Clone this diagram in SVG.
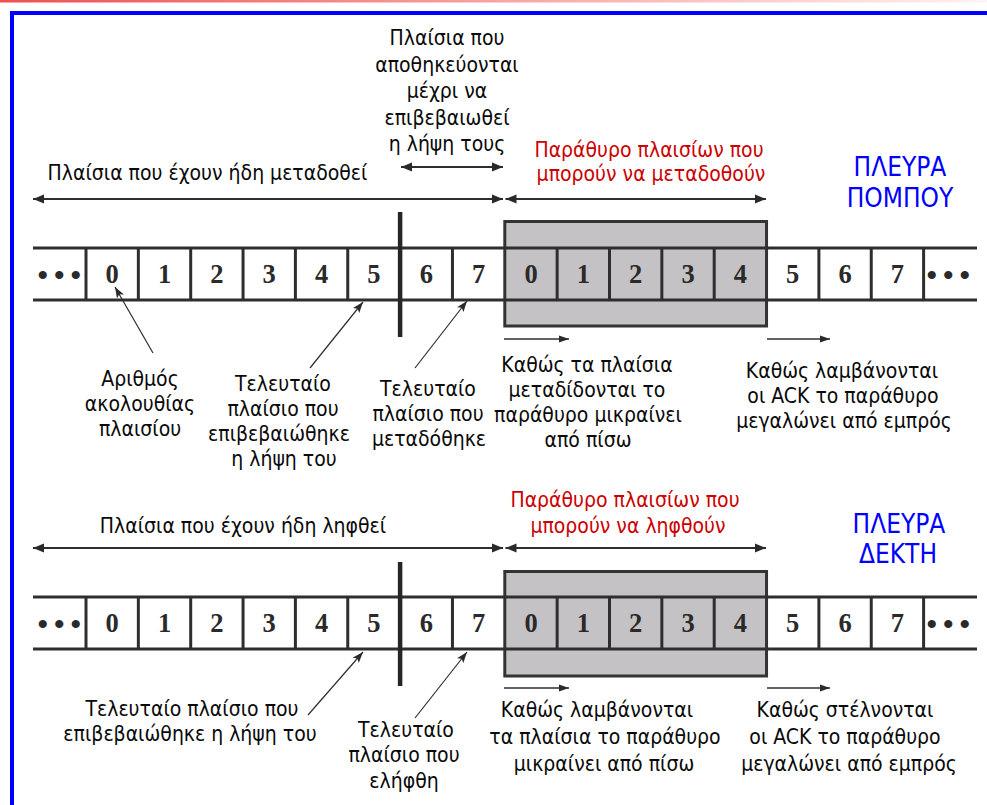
<svg xmlns="http://www.w3.org/2000/svg" width="987" height="805" viewBox="0 0 987 805">
<defs>
<linearGradient id="topbar" x1="0" y1="0" x2="1" y2="0">
<stop offset="0" stop-color="#ee5050"/>
<stop offset="0.5" stop-color="#f7a3a3"/>
<stop offset="1" stop-color="#fff2f2"/>
</linearGradient>
<marker id="ah" markerUnits="userSpaceOnUse" markerWidth="12" markerHeight="10" refX="11" refY="5" orient="auto-start-reverse" viewBox="0 0 12 10">
<path d="M0,0.5 L11,5 L0,9.5 z" fill="#2a2a2a"/>
</marker>
<marker id="ahs" markerUnits="userSpaceOnUse" markerWidth="11" markerHeight="8" refX="10" refY="4" orient="auto" viewBox="0 0 11 8">
<path d="M0,0.5 L10,4 L0,7.5 z" fill="#2a2a2a"/>
</marker>
<marker id="ahp" markerUnits="userSpaceOnUse" markerWidth="12" markerHeight="9" refX="11" refY="4.5" orient="auto" viewBox="0 0 12 9">
<path d="M0,0.5 L11,4.5 L0,8.5 L2.5,4.5 z" fill="#2a2a2a"/>
</marker>
</defs>
<style>
.lbl{font-family:"DejaVu Sans Condensed","DejaVu Sans",sans-serif;font-stretch:condensed;font-size:21px;fill:#0a0a0a;text-anchor:middle}
.red{fill:#cc0000}
.side{fill:#0000ff;font-size:26px}
.num{font-family:"Liberation Serif","DejaVu Serif",serif;font-weight:700;font-size:26.5px;fill:#2a2a2a;text-anchor:middle}
.dots{font-family:"Liberation Serif","DejaVu Serif",serif;font-weight:700;font-size:30px;fill:#2a2a2a;letter-spacing:6px}
.hl{stroke:#2e2e2e;stroke-width:3;fill:none}
.dv{stroke:#2e2e2e;stroke-width:3}
.bar{stroke:#262626;stroke-width:4.5}
.win{fill:#c4c2c5;stroke:#333;stroke-width:3}
.arr{stroke:#2e2e2e;stroke-width:2;fill:none}
.sarr{stroke:#2e2e2e;stroke-width:1.6;fill:none}
.ptr{stroke:#2e2e2e;stroke-width:1.2;fill:none}
</style>
<rect x="0" y="0" width="987" height="2.5" fill="url(#topbar)"/>
<rect x="12" y="13" width="1000" height="900" fill="none" stroke="#0000ff" stroke-width="4"/>

<!-- Transmitter side row -->
<g id="tx-row">
<rect class="win" x="504.8" y="221.5" width="261.75" height="104.5"/>
<line class="hl" x1="33" y1="248" x2="977" y2="248"/>
<line class="hl" x1="33" y1="300" x2="977" y2="300"/>
<g id="tx-dividers">
<line class="dv" x1="86" y1="248" x2="86" y2="300"/>
<line class="dv" x1="138.35" y1="248" x2="138.35" y2="300"/>
<line class="dv" x1="190.7" y1="248" x2="190.7" y2="300"/>
<line class="dv" x1="243.05" y1="248" x2="243.05" y2="300"/>
<line class="dv" x1="295.4" y1="248" x2="295.4" y2="300"/>
<line class="dv" x1="347.75" y1="248" x2="347.75" y2="300"/>
<line class="dv" x1="452.45" y1="248" x2="452.45" y2="300"/>
<line class="dv" x1="557.15" y1="248" x2="557.15" y2="300"/>
<line class="dv" x1="609.5" y1="248" x2="609.5" y2="300"/>
<line class="dv" x1="661.85" y1="248" x2="661.85" y2="300"/>
<line class="dv" x1="714.2" y1="248" x2="714.2" y2="300"/>
<line class="dv" x1="818.9" y1="248" x2="818.9" y2="300"/>
<line class="dv" x1="871.25" y1="248" x2="871.25" y2="300"/>
<line class="dv" x1="923.6" y1="248" x2="923.6" y2="300"/>
</g>
<line class="bar" x1="400.1" y1="212" x2="400.1" y2="337"/>
<g id="tx-cell-dots-l"><text class="dots" x="37.5" y="285">•••</text></g>
<g id="tx-cell-0"><text class="num" x="112.2" y="282.5">0</text></g>
<g id="tx-cell-1"><text class="num" x="164.5" y="282.5">1</text></g>
<g id="tx-cell-2"><text class="num" x="216.9" y="282.5">2</text></g>
<g id="tx-cell-3"><text class="num" x="269.2" y="282.5">3</text></g>
<g id="tx-cell-4"><text class="num" x="321.6" y="282.5">4</text></g>
<g id="tx-cell-5"><text class="num" x="373.9" y="282.5">5</text></g>
<g id="tx-cell-6"><text class="num" x="426.3" y="282.5">6</text></g>
<g id="tx-cell-7"><text class="num" x="478.6" y="282.5">7</text></g>
<g id="tx-cell-w0"><text class="num" x="531" y="282.5">0</text></g>
<g id="tx-cell-w1"><text class="num" x="583.3" y="282.5">1</text></g>
<g id="tx-cell-w2"><text class="num" x="635.7" y="282.5">2</text></g>
<g id="tx-cell-w3"><text class="num" x="688" y="282.5">3</text></g>
<g id="tx-cell-w4"><text class="num" x="740.4" y="282.5">4</text></g>
<g id="tx-cell-n5"><text class="num" x="792.7" y="282.5">5</text></g>
<g id="tx-cell-n6"><text class="num" x="845.1" y="282.5">6</text></g>
<g id="tx-cell-n7"><text class="num" x="897.4" y="282.5">7</text></g>
<g id="tx-cell-dots-r"><text class="dots" x="926.5" y="285">•••</text></g>
</g>

<!-- Receiver side row -->
<g id="rx-row">
<rect class="win" x="504.8" y="571.5" width="261.75" height="104.5"/>
<line class="hl" x1="33" y1="597" x2="977" y2="597"/>
<line class="hl" x1="33" y1="649" x2="977" y2="649"/>
<g id="rx-dividers">
<line class="dv" x1="86" y1="597" x2="86" y2="649"/>
<line class="dv" x1="138.35" y1="597" x2="138.35" y2="649"/>
<line class="dv" x1="190.7" y1="597" x2="190.7" y2="649"/>
<line class="dv" x1="243.05" y1="597" x2="243.05" y2="649"/>
<line class="dv" x1="295.4" y1="597" x2="295.4" y2="649"/>
<line class="dv" x1="347.75" y1="597" x2="347.75" y2="649"/>
<line class="dv" x1="452.45" y1="597" x2="452.45" y2="649"/>
<line class="dv" x1="557.15" y1="597" x2="557.15" y2="649"/>
<line class="dv" x1="609.5" y1="597" x2="609.5" y2="649"/>
<line class="dv" x1="661.85" y1="597" x2="661.85" y2="649"/>
<line class="dv" x1="714.2" y1="597" x2="714.2" y2="649"/>
<line class="dv" x1="818.9" y1="597" x2="818.9" y2="649"/>
<line class="dv" x1="871.25" y1="597" x2="871.25" y2="649"/>
<line class="dv" x1="923.6" y1="597" x2="923.6" y2="649"/>
</g>
<line class="bar" x1="400.1" y1="562" x2="400.1" y2="686"/>
<g id="rx-cell-dots-l"><text class="dots" x="37.5" y="634">•••</text></g>
<g id="rx-cell-0"><text class="num" x="112.2" y="631.5">0</text></g>
<g id="rx-cell-1"><text class="num" x="164.5" y="631.5">1</text></g>
<g id="rx-cell-2"><text class="num" x="216.9" y="631.5">2</text></g>
<g id="rx-cell-3"><text class="num" x="269.2" y="631.5">3</text></g>
<g id="rx-cell-4"><text class="num" x="321.6" y="631.5">4</text></g>
<g id="rx-cell-5"><text class="num" x="373.9" y="631.5">5</text></g>
<g id="rx-cell-6"><text class="num" x="426.3" y="631.5">6</text></g>
<g id="rx-cell-7"><text class="num" x="478.6" y="631.5">7</text></g>
<g id="rx-cell-w0"><text class="num" x="531" y="631.5">0</text></g>
<g id="rx-cell-w1"><text class="num" x="583.3" y="631.5">1</text></g>
<g id="rx-cell-w2"><text class="num" x="635.7" y="631.5">2</text></g>
<g id="rx-cell-w3"><text class="num" x="688" y="631.5">3</text></g>
<g id="rx-cell-w4"><text class="num" x="740.4" y="631.5">4</text></g>
<g id="rx-cell-n5"><text class="num" x="792.7" y="631.5">5</text></g>
<g id="rx-cell-n6"><text class="num" x="845.1" y="631.5">6</text></g>
<g id="rx-cell-n7"><text class="num" x="897.4" y="631.5">7</text></g>
<g id="rx-cell-dots-r"><text class="dots" x="926.5" y="634">•••</text></g>
</g>

<!-- Labels -->
<g id="lbl-tx-sent"><text class="lbl" x="207.5" y="180">Πλαίσια που έχουν ήδη μεταδοθεί</text></g>
<g id="lbl-tx-stored">
<text class="lbl" x="447" y="45">Πλαίσια που</text>
<text class="lbl" x="447" y="71.5">αποθηκεύονται</text>
<text class="lbl" x="447" y="98">μέχρι να</text>
<text class="lbl" x="447" y="124.5">επιβεβαιωθεί</text>
<text class="lbl" x="447" y="151">η λήψη τους</text>
</g>
<g id="lbl-tx-window">
<text class="lbl red" x="649" y="157">Παράθυρο πλαισίων που</text>
<text class="lbl red" x="651" y="181">μπορούν να μεταδοθούν</text>
</g>
<g id="lbl-tx-side">
<text class="lbl side" x="900" y="176">ΠΛΕΥΡΑ</text>
<text class="lbl side" x="900" y="207">ΠΟΜΠΟΥ</text>
</g>
<g id="lbl-seq">
<text class="lbl" x="140" y="386">Αριθμός</text>
<text class="lbl" x="140" y="411">ακολουθίας</text>
<text class="lbl" x="140" y="436">πλαισίου</text>
</g>
<g id="lbl-tx-lastack">
<text class="lbl" x="283" y="391">Τελευταίο</text>
<text class="lbl" x="283" y="416">πλαίσιο που</text>
<text class="lbl" x="279" y="441">επιβεβαιώθηκε</text>
<text class="lbl" x="284" y="466">η λήψη του</text>
</g>
<g id="lbl-tx-lastsent">
<text class="lbl" x="428" y="396">Τελευταίο</text>
<text class="lbl" x="428" y="421">πλαίσιο που</text>
<text class="lbl" x="429" y="446">μεταδόθηκε</text>
</g>
<g id="lbl-tx-shrink">
<text class="lbl" x="587" y="372">Καθώς τα πλαίσια</text>
<text class="lbl" x="587" y="397">μεταδίδονται το</text>
<text class="lbl" x="588" y="422">παράθυρο μικραίνει</text>
<text class="lbl" x="588" y="447">από πίσω</text>
</g>
<g id="lbl-tx-grow">
<text class="lbl" x="842" y="378">Καθώς λαμβάνονται</text>
<text class="lbl" x="843" y="403">οι ACK το παράθυρο</text>
<text class="lbl" x="844" y="428">μεγαλώνει από εμπρός</text>
</g>

<g id="lbl-rx-recv"><text class="lbl" x="243" y="533">Πλαίσια που έχουν ήδη ληφθεί</text></g>
<g id="lbl-rx-window">
<text class="lbl red" x="625" y="507">Παράθυρο πλαισίων που</text>
<text class="lbl red" x="628" y="533">μπορούν να ληφθούν</text>
</g>
<g id="lbl-rx-side">
<text class="lbl side" x="899" y="533">ΠΛΕΥΡΑ</text>
<text class="lbl side" x="898" y="563">ΔΕΚΤΗ</text>
</g>
<g id="lbl-rx-lastack">
<text class="lbl" x="192" y="716">Τελευταίο πλαίσιο που</text>
<text class="lbl" x="190" y="741">επιβεβαιώθηκε η λήψη του</text>
</g>
<g id="lbl-rx-lastrecv">
<text class="lbl" x="406" y="737">Τελευταίο</text>
<text class="lbl" x="404" y="762">πλαίσιο που</text>
<text class="lbl" x="404" y="788">ελήφθη</text>
</g>
<g id="lbl-rx-shrink">
<text class="lbl" x="597" y="717">Καθώς λαμβάνονται</text>
<text class="lbl" x="605" y="744">τα πλαίσια το παράθυρο</text>
<text class="lbl" x="604" y="771">μικραίνει από πίσω</text>
</g>
<g id="lbl-rx-grow">
<text class="lbl" x="845" y="717">Καθώς στέλνονται</text>
<text class="lbl" x="845" y="744">οι ACK το παράθυρο</text>
<text class="lbl" x="849" y="771">μεγαλώνει από εμπρός</text>
</g>

<!-- Connectors -->
<g id="connectors">
<line class="arr" x1="33" y1="199" x2="503" y2="199" marker-start="url(#ah)" marker-end="url(#ah)"/>
<line class="arr" x1="401" y1="167" x2="503" y2="167" marker-start="url(#ah)" marker-end="url(#ah)"/>
<line class="arr" x1="505.5" y1="199" x2="766" y2="199" marker-start="url(#ah)" marker-end="url(#ah)"/>
<line class="sarr" x1="504" y1="339" x2="569" y2="339" marker-end="url(#ahs)"/>
<line class="sarr" x1="767" y1="339" x2="830" y2="339" marker-end="url(#ahs)"/>
<line class="ptr" x1="153" y1="353" x2="115" y2="287" marker-end="url(#ahp)"/>
<line class="ptr" x1="310" y1="368" x2="363" y2="302" marker-end="url(#ahp)"/>
<line class="ptr" x1="415" y1="368" x2="467" y2="301" marker-end="url(#ahp)"/>

<line class="arr" x1="33" y1="548" x2="503" y2="548" marker-start="url(#ah)" marker-end="url(#ah)"/>
<line class="arr" x1="505.5" y1="548" x2="766" y2="548" marker-start="url(#ah)" marker-end="url(#ah)"/>
<line class="sarr" x1="504" y1="688" x2="569" y2="688" marker-end="url(#ahs)"/>
<line class="sarr" x1="767" y1="688" x2="830" y2="688" marker-end="url(#ahs)"/>
<line class="ptr" x1="308" y1="715" x2="363" y2="652" marker-end="url(#ahp)"/>
<line class="ptr" x1="415" y1="718" x2="467" y2="652" marker-end="url(#ahp)"/>
</g>
</svg>
